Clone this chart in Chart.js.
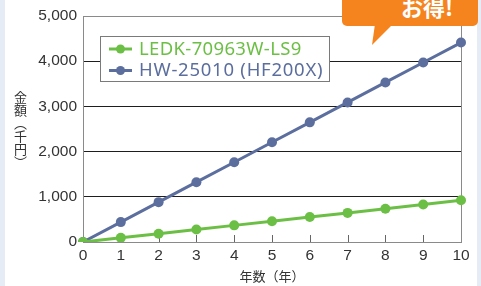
<!DOCTYPE html>
<html>
<head>
<meta charset="utf-8">
<script src="https://cdn.jsdelivr.net/npm/chart.js@4/dist/chart.umd.min.js"></script>
<style>
  html, body { margin: 0; padding: 0; background: #ffffff; }
  #wrap { position: relative; width: 481px; height: 286px; overflow: hidden; background: #fff; }
  #c { position: absolute; left: 0; top: 0; }
  .strip { position: absolute; top: 0; height: 286px; background: #e6ecf5; }
  #ytitle { position: absolute; left: 13px; top: 91px; writing-mode: vertical-rl; font: 13px "Noto Sans CJK JP"; color: #333; line-height: 14px; }
  #callout { position: absolute; left: 342px; top: -6px; width: 136px; height: 32px; background: #f5841f; border-radius: 5px; }
  #tri { position: absolute; left: 370px; top: 24px; width: 24px; height: 22px; background: #f5841f; clip-path: polygon(5px 0, 23px 0, 2px 21px); }
  #otoku { position: absolute; left: 401px; top: -6px; font: bold 22px "Noto Sans CJK JP"; color: #fff; line-height: 24px; white-space: nowrap; }
</style>
</head>
<body>
<div id="wrap">
  <div class="strip" style="left:0;width:5px;"></div>
  <div class="strip" style="left:477px;width:4px;"></div>
  <canvas id="c" width="481" height="286"></canvas>
  <div id="ytitle">金額（千円）</div>
  <div id="callout"></div>
  <div id="tri"></div>
  <div id="otoku">お得!</div>
</div>
<script>
const years = ['0','1','2','3','4','5','6','7','8','9','10'];
const ledkValues = [0, 92, 184, 276, 368, 460, 552, 644, 736, 828, 922];
const hwValues = [0, 440, 882, 1323, 1765, 2206, 2647, 3088, 3530, 3971, 4412];
const seriesNames = ['LEDK-70963W-LS9', 'HW-25010 (HF200X)'];
const yTickValues = [0, 1000, 2000, 3000, 4000, 5000];
const xTitle = '年数（年）';

const GREEN = '#6cbf45';
const BLUE = '#5b6e9e';
const AXIS = '#8a8a8a';

const innerTicks = {
  id: 'innerTicks',
  beforeDatasetsDraw(chart) {
    const ctx = chart.ctx, x = chart.scales.x, a = chart.chartArea;
    ctx.save();
    ctx.strokeStyle = '#666';
    ctx.lineWidth = 1;
    ctx.beginPath();
    for (let i = 1; i < years.length - 1; i++) {
      const px = Math.round(x.getPixelForValue(i)) + 0.5;
      ctx.moveTo(px, a.bottom);
      ctx.lineTo(px, a.bottom - 7);
    }
    ctx.stroke();
    ctx.restore();
  }
};

const boxLegend = {
  id: 'boxLegend',
  afterDraw(chart) {
    const ctx = chart.ctx;
    const bx = 100.5, by = 36.5, bw = 229, bh = 45;
    ctx.save();
    ctx.fillStyle = '#fff';
    ctx.fillRect(bx, by, bw, bh);
    ctx.strokeStyle = '#7a7a7a';
    ctx.lineWidth = 1;
    ctx.strokeRect(bx, by, bw, bh);
    const rows = [49, 70.5];
    chart.data.datasets.forEach((ds, i) => {
      const y = rows[i];
      ctx.strokeStyle = ds.borderColor;
      ctx.lineWidth = 3;
      ctx.beginPath();
      ctx.moveTo(109, y);
      ctx.lineTo(132, y);
      ctx.stroke();
      ctx.fillStyle = ds.borderColor;
      ctx.beginPath();
      ctx.arc(120.5, y, 4.5, 0, Math.PI * 2);
      ctx.fill();
      ctx.font = '18.5px "Noto Sans"';
      if ('letterSpacing' in ctx) ctx.letterSpacing = (i === 0 ? '0.35px' : '0.75px');
      ctx.textBaseline = 'middle';
      ctx.textAlign = 'left';
      ctx.fillText(ds.label, 139, y + 0.5);
      if ('letterSpacing' in ctx) ctx.letterSpacing = '0px';
    });
    ctx.restore();
  }
};

const frame = {
  id: 'frame',
  beforeDatasetsDraw(chart) {
    const ctx = chart.ctx, a = chart.chartArea;
    ctx.save();
    ctx.strokeStyle = AXIS;
    ctx.lineWidth = 1;
    ctx.beginPath();
    ctx.moveTo(Math.round(a.right) + 0.5, a.top);
    ctx.lineTo(Math.round(a.right) + 0.5, a.bottom);
    ctx.stroke();
    ctx.restore();
  }
};

new Chart(document.getElementById('c'), {
  type: 'line',
  data: {
    labels: years,
    datasets: [
      { label: seriesNames[0], data: ledkValues, borderColor: GREEN, backgroundColor: GREEN,
        pointBackgroundColor: GREEN, pointBorderWidth: 0, pointRadius: 5, borderWidth: 3, tension: 0 },
      { label: seriesNames[1], data: hwValues, borderColor: BLUE, backgroundColor: BLUE,
        pointBackgroundColor: BLUE, pointBorderWidth: 0, pointRadius: 5, borderWidth: 3, tension: 0 }
    ]
  },
  options: {
    responsive: false,
    animation: false,
    layout: { padding: { left: 0, right: 20, top: 16, bottom: 0 } },
    plugins: { legend: { display: false }, tooltip: { enabled: false } },
    scales: {
      x: {
        offset: false,
        grid: { display: false, drawTicks: false },
        border: { display: true, color: AXIS, width: 1 },
        ticks: { color: '#333', font: { family: '"Liberation Sans"', size: 15.5 }, padding: 4, maxRotation: 0 },
        title: { display: true, text: xTitle, color: '#333', font: { family: '"Noto Sans CJK JP"', size: 13 }, padding: { top: 2, bottom: 2 } },
        afterFit(s) { s.height = 44; }
      },
      y: {
        min: 0, max: 5000,
        afterBuildTicks(s) { s.ticks = yTickValues.map(v => ({ value: v })); },
        grid: {
          drawTicks: false,
          color: c => (c.tick && (c.tick.value === 0 || c.tick.value === 5000)) ? AXIS : '#1e1e1e',
          lineWidth: 1
        },
        border: { display: true, color: AXIS, width: 1 },
        ticks: { color: '#333', font: { family: '"Liberation Sans"', size: 15.5 }, padding: 6,
          callback: v => v.toLocaleString('en-US') },
        afterFit(s) { s.width = 83; }
      }
    }
  },
  plugins: [innerTicks, frame, boxLegend]
});
</script>
</body>
</html>
